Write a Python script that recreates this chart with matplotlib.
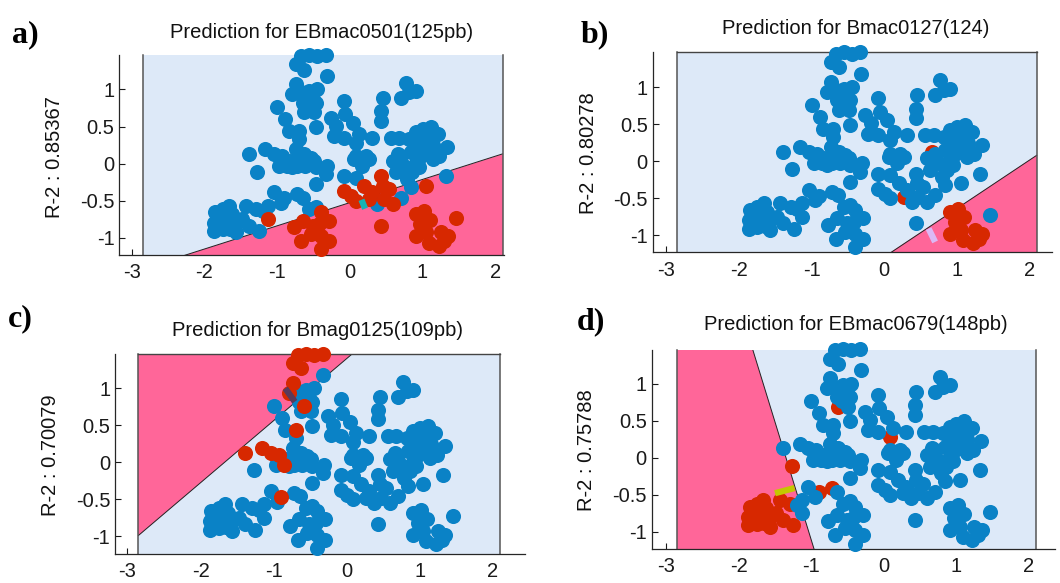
import matplotlib
matplotlib.use("Agg")
import matplotlib.pyplot as plt
from matplotlib.patches import Rectangle, Polygon

plt.rcParams['font.family'] = ['Liberation Sans', 'DejaVu Sans']
plt.rcParams['axes.unicode_minus'] = False

# ---- shared point cloud (same samples in every panel) ----
pts_x = [-0.67, -0.56, -0.45, -0.33, -0.74, -0.63, -0.32, -0.74, -0.79, -0.67,
         -0.56, -0.45, -0.51, -0.65, -0.47, -0.63, -0.49, -0.58, -1.00, -0.89,
         -0.84, -0.70, -0.70, -0.47, -0.26, -0.19, -0.22, -0.08, -0.08, -0.06,
         0.04, -0.74, -0.70, -0.63, -0.54, -0.61, -0.72, -0.86, -0.97, -0.93,
         -1.04, -1.16, -1.39, -1.27, -0.84, -0.31, -0.33, -0.47, -0.72, -1.04,
         -0.90, -0.95, -1.13, -1.20, -1.29, -1.43, -1.13, -1.25, -1.85, -1.75,
         -1.66, -1.87, -1.71, -1.57, -1.48, -1.87, -1.75, -1.57, -1.39, -1.80,
         -1.62, -1.65, -0.77, -0.65, -0.56, -0.47, -0.40, -0.51, -0.42, -0.29,
         -0.67, -0.54, -0.40, -0.29, -0.40, 0.08, 0.13, 0.31, 0.08, 0.22,
         0.17, 0.06, 0.45, 0.43, 0.43, 0.77, 0.91, 0.70, 0.82, 0.56,
         0.68, 0.82, 0.91, 1.00, 1.11, 1.21, 1.09, 1.34, 1.23, 1.32,
         0.95, 1.05, 0.84, 0.70, 0.59, 0.75, 0.91, 0.98, 1.14, 0.86,
         0.79, 0.84, 1.05, 0.63, 1.00, 1.15, 0.95, -0.08, 0.08, -0.08,
         0.01, 0.08, 0.20, 0.31, 0.43, 0.45, 0.38, 0.47, 0.59, 0.70,
         0.54, 0.43, 1.46, 0.66, 0.27, 0.91, 1.02, 0.97, 0.91, 1.05,
         1.09, 1.25, 1.30, 1.22, 1.35, 1.10, -0.64, 0.27, -0.79, -0.47,
         -0.49]
pts_y = [1.45, 1.47, 1.45, 1.47, 1.34, 1.27, 1.18, 1.07, 0.94, 0.96,
         0.98, 1.00, 0.87, 0.82, 0.82, 0.69, 0.69, 0.76, 0.76, 0.60,
         0.44, 0.44, 0.33, 0.49, 0.62, 0.51, 0.37, 0.35, 0.85, 0.67,
         0.55, 0.19, 0.10, 0.13, 0.08, -0.03, -0.03, -0.03, -0.03, 0.10,
         0.13, 0.19, 0.13, -0.11, 0.04, -0.03, -0.14, -0.28, -0.41, -0.39,
         -0.47, -0.53, -0.57, -0.64, -0.62, -0.57, -0.75, -0.91, -0.66, -0.62,
         -0.57, -0.80, -0.75, -0.80, -0.75, -0.91, -0.89, -0.93, -0.84, -0.72,
         -0.68, -0.88, -0.86, -0.77, -0.62, -0.59, -0.66, -0.84, -0.82, -0.77,
         -1.05, -0.95, -1.16, -1.05, -0.98, 0.28, 0.40, 0.35, 0.10, 0.10,
         -0.03, 0.06, 0.89, 0.71, 0.58, 1.09, 0.98, 0.89, 0.96, 0.35,
         0.35, 0.33, 0.42, 0.46, 0.49, 0.40, 0.33, 0.22, 0.10, -0.17,
         0.24, 0.17, 0.15, 0.10, 0.04, -0.03, 0.01, 0.10, 0.06, -0.12,
         -0.21, -0.32, -0.30, -0.12, 0.30, 0.25, -0.05, -0.17, -0.19, -0.37,
         -0.44, -0.50, -0.30, -0.39, -0.17, -0.30, -0.55, -0.48, -0.55, -0.46,
         -0.35, -0.84, -0.73, 0.13, -0.48, -0.68, -0.64, -0.82, -0.98, -0.93,
         -1.07, -0.93, -1.05, -1.11, -0.98, -0.76, -0.46, 0.06, -0.05, -0.05,
         0.04]

# indices of samples predicted as the marker class (red) in each panel
cluster_lr = list(range(145, 156))
red_a = [56, 72, 73, 76, 77, 78, 79, 80, 81, 82, 83, 84, 122, 129, 130, 131, 132,
         133, 134, 135, 137, 138, 140, 141, 142, 144] + cluster_lr
red_b = [143, 144] + cluster_lr
red_c = [0, 1, 2, 3, 4, 5, 7, 8, 17, 21, 37, 39, 40, 41, 42, 50]
red_d = [15, 43, 48, 50, 54, 55, 57, 85] + list(range(58, 72))
red_on_top = [True, False, True, False]

panel_letters = ['a)', 'b)', 'c)', 'd)']
titles = ['Prediction for EBmac0501(125pb)', 'Prediction for Bmac0127(124)',
          'Prediction for Bmag0125(109pb)', 'Prediction for EBmac0679(148pb)']
r2_labels = ['R-2 : 0.85367', 'R-2 : 0.80278', 'R-2 : 0.70079', 'R-2 : 0.75788']
# decision boundary endpoints and a point on the pink side
boundaries = [[(-2.27, -1.24), (2.10, 0.13)],
              [(0.08, -1.24), (2.10, 0.08)],
              [(-2.85, -0.99), (0.08, 1.47)],
              [(-1.81, 1.47), (-0.96, -1.24)]]
pink_side = [(1.5, -1.0), (1.5, -1.0), (-2.5, 1.0), (-2.5, 0.0)]
# short direction segments
seg_pts = [[(0.16, -0.49), (0.21, -0.61)],
           [(0.61, -0.91), (0.70, -1.09)],
           [(-0.84, 1.00), (-0.71, 0.82)],
           [(-1.50, -0.48), (-1.23, -0.41)]]
seg_colors = ['#17b3b3', '#dcb8f5', '#583a5c', '#c3c800']
x_ticks = [-3, -2, -1, 0, 1, 2]
y_ticks = [-1, -0.5, 0, 0.5, 1]
y_ticklabels = ['-1', '-0.5', '0', '0.5', '1']

# ---- layout (pixels) ----
W, H = 1060, 583
ax_px = [(119.3, 55, 504, 255), (652.7, 52.3, 1052, 252.3),
         (115, 354, 525, 554), (651.7, 350, 1055, 549)]
xlims = [(-3.17, 2.12), (-3.19, 2.31), (-3.17, 2.44), (-3.20, 2.36)]
ylims = [(-1.236, 1.466), (-1.23, 1.47), (-1.24, 1.465), (-1.234, 1.455)]
top_edge = [False, True, True, False]
title_pos = [(322, 33), (856, 29), (318, 330), (856, 325)]
ylab_pos = [(55, 157), (588, 153), (50, 455), (587, 450)]
letter_pos = [(12, 42), (581, 42), (8, 326), (577, 329)]

LIGHT = '#dde9f8'
PINK = '#ff6699'
BLUE = '#0a82c6'
RED = '#d72800'
SHADE_X = (-2.85, 2.10)


def clip_halfplane(poly, p1, p2, inside_pt):
    def side(p):
        return (p2[0] - p1[0]) * (p[1] - p1[1]) - (p2[1] - p1[1]) * (p[0] - p1[0])
    s_in = side(inside_pt)
    out = []
    n = len(poly)
    for i in range(n):
        a, b = poly[i], poly[(i + 1) % n]
        sa, sb = side(a) * s_in, side(b) * s_in
        if sa >= 0:
            out.append(a)
        if (sa >= 0) != (sb >= 0):
            t = sa / (sa - sb)
            out.append((a[0] + t * (b[0] - a[0]), a[1] + t * (b[1] - a[1])))
    return out


fig = plt.figure(figsize=(W / 100, H / 100), dpi=100)

for k in range(4):
    l, t, r, b = ax_px[k]
    ax = fig.add_axes([l / W, 1 - b / H, (r - l) / W, (b - t) / H])
    ax.set_xlim(*xlims[k])
    ax.set_ylim(*ylims[k])
    y0, y1 = ylims[k]
    ax.add_patch(Rectangle((SHADE_X[0], y0), SHADE_X[1] - SHADE_X[0], y1 - y0,
                           facecolor=LIGHT, edgecolor='none', zorder=1))
    rect = [(SHADE_X[0], y0), (SHADE_X[1], y0), (SHADE_X[1], y1), (SHADE_X[0], y1)]
    p1, p2 = boundaries[k]
    pink = clip_halfplane(rect, p1, p2, pink_side[k])
    ax.add_patch(Polygon(pink, closed=True, facecolor=PINK, edgecolor='none', zorder=1.2))
    ax.plot([p1[0], p2[0]], [p1[1], p2[1]], color='#222222', lw=0.7, zorder=1.4)
    for xe in SHADE_X:
        ax.plot([xe, xe], [y0, y1], color='#555555', lw=1.1, zorder=1.5, clip_on=False)
    if top_edge[k]:
        ax.plot(list(SHADE_X), [y1, y1], color='#444444', lw=1.0, zorder=1.5, clip_on=False)

    reds = set(red_a if k == 0 else red_b if k == 1 else red_c if k == 2 else red_d)
    rx = [pts_x[i] for i in range(len(pts_x)) if i in reds]
    ry = [pts_y[i] for i in range(len(pts_y)) if i in reds]
    bx = [pts_x[i] for i in range(len(pts_x)) if i not in reds]
    by = [pts_y[i] for i in range(len(pts_y)) if i not in reds]
    zr = 3.2 if red_on_top[k] else 3.0
    ax.scatter(rx, ry, s=118, color=RED, linewidths=0, zorder=zr, clip_on=False)
    ax.scatter(bx, by, s=118, color=BLUE, linewidths=0, zorder=3.1, clip_on=False)

    (sx0, sy0), (sx1, sy1) = seg_pts[k]
    ax.plot([sx0, sx1], [sy0, sy1], color=seg_colors[k], lw=4.5,
            solid_capstyle='butt', zorder=3.5)

    ax.set_axisbelow(True)
    ax.set_xticks(x_ticks)
    ax.set_yticks(y_ticks)
    ax.set_yticklabels(y_ticklabels)
    ax.tick_params(direction='in', length=4, width=0.8, labelsize=14.5,
                   colors='#1a1a1a')
    ax.tick_params(axis='x', pad=6)
    ax.tick_params(axis='y', pad=3.5)
    for sp in ['top', 'right']:
        ax.spines[sp].set_visible(False)
    for sp in ['left', 'bottom']:
        ax.spines[sp].set_color('#262626')
        ax.spines[sp].set_linewidth(0.9)
    ax.patch.set_visible(False)

    tx, ty = title_pos[k]
    fig.text(tx / W, 1 - ty / H, titles[k], ha='center', va='center', fontsize=14.5,
             color='#111111')
    lx, ly = ylab_pos[k]
    fig.text(lx / W, 1 - ly / H, r2_labels[k], ha='center', va='center', fontsize=14.5,
             rotation=90, color='#111111')
    px, py = letter_pos[k]
    fig.text(px / W, 1 - py / H, panel_letters[k], ha='left', va='baseline', fontsize=23,
             fontweight='bold', family='Liberation Serif', color='black')

fig.savefig('out.png', dpi=100)
